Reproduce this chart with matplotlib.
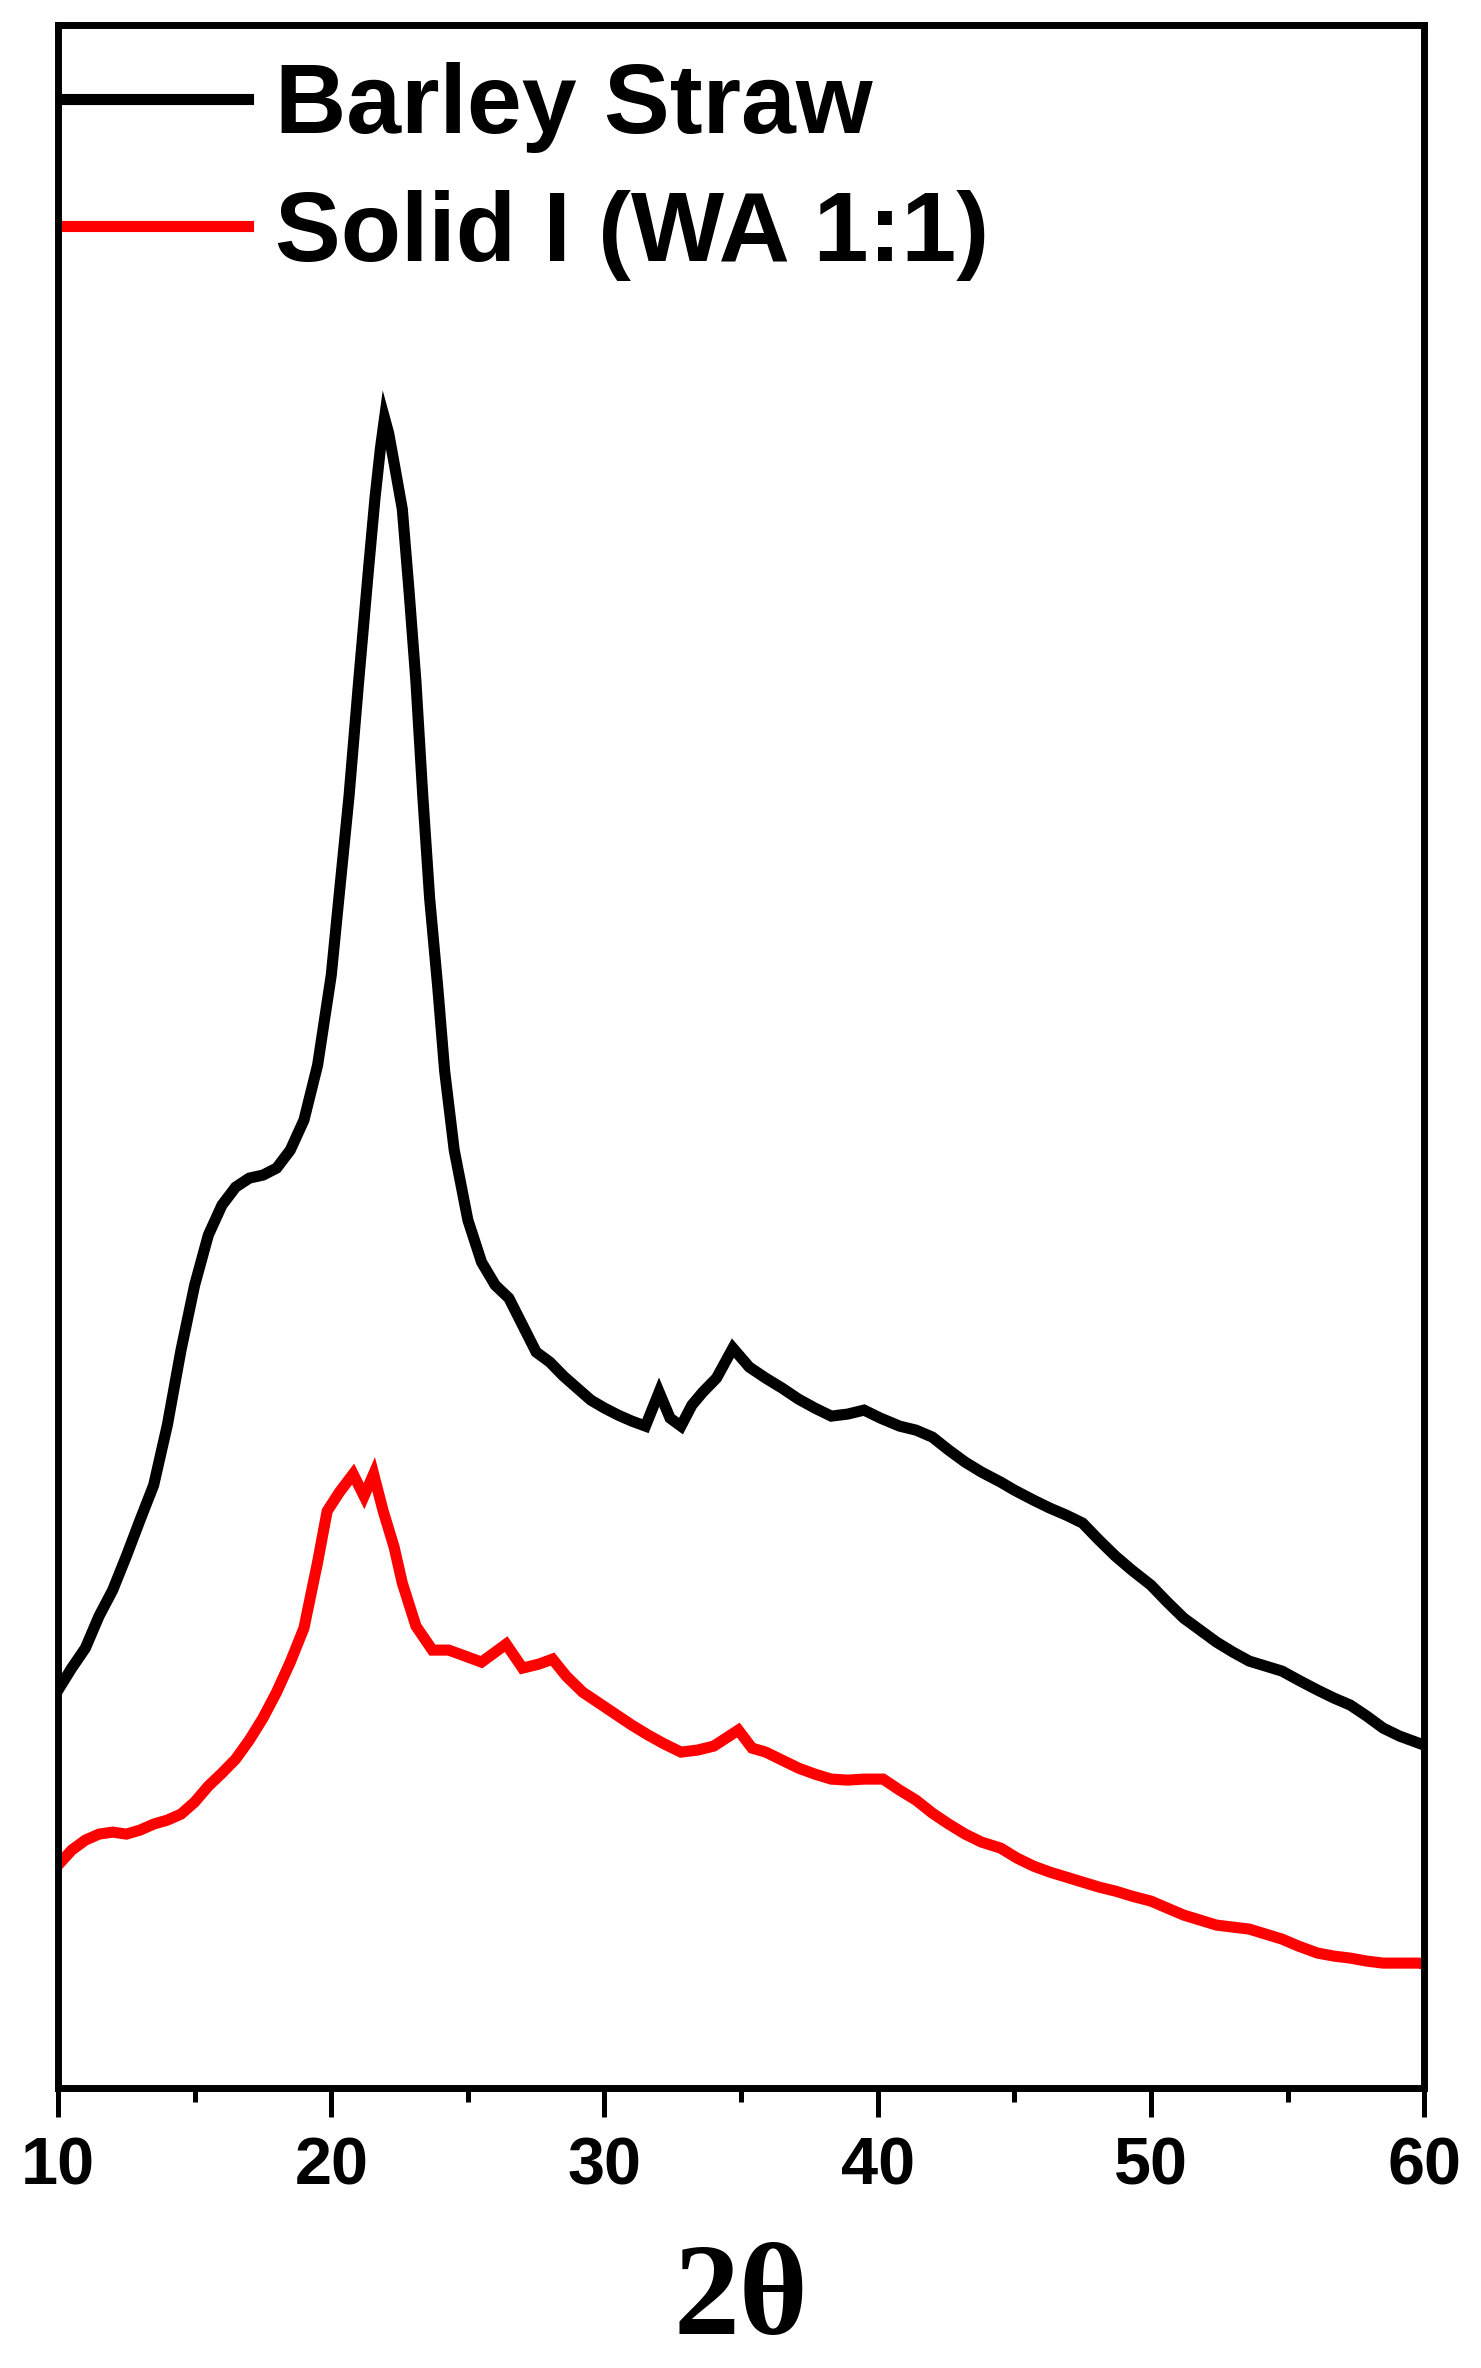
import matplotlib
matplotlib.use("Agg")
import matplotlib.pyplot as plt
from matplotlib.ticker import MultipleLocator

# XRD patterns (intensity in arbitrary units)
two_theta_straw = [10.0, 10.5, 11.0, 11.5, 12.0, 12.5, 13.0, 13.5, 14.0, 14.5,
                   15.0, 15.5, 16.0, 16.5, 17.0, 17.5, 18.0, 18.5, 19.0, 19.5,
                   20.0, 20.3, 20.65, 21.0, 21.35, 21.6, 21.8, 21.95, 22.1, 22.3,
                   22.6, 22.85, 23.1, 23.35, 23.6, 23.9, 24.15, 24.5, 25.0, 25.5,
                   26.0, 26.5, 27.0, 27.5, 28.0, 28.5, 29.0, 29.5, 30.0, 30.5,
                   31.0, 31.5, 32.0, 32.4, 32.8, 33.2, 33.6, 34.1, 34.7, 35.3,
                   35.9, 36.5, 37.1, 37.7, 38.3, 38.9, 39.5, 40.1, 40.8, 41.4,
                   42.0, 42.6, 43.2, 43.8, 44.5, 45.0, 45.7, 46.3, 46.9, 47.5,
                   48.1, 48.7, 49.3, 50.0, 50.6, 51.2, 51.8, 52.4, 53.0, 53.6,
                   54.2, 54.8, 55.4, 56.1, 56.7, 57.3, 57.9, 58.5, 59.1, 59.8,
                   60.0]
barley_straw = [398, 420, 440, 472, 498, 532, 568, 603, 663, 738,
                803, 853, 883, 901, 910, 913, 920, 938, 968, 1023,
                1113, 1196, 1292, 1406, 1515, 1590, 1640, 1670, 1655, 1625,
                1579, 1496, 1406, 1292, 1190, 1100, 1017, 938, 868, 826,
                803, 790, 763, 736, 726, 712, 700, 688, 680, 673,
                667, 662, 696, 670, 662, 683, 696, 710, 740, 721,
                710, 700, 689, 680, 672, 674, 678, 670, 662, 658,
                651, 638, 626, 616, 606, 598, 588, 580, 573, 565,
                548, 532, 518, 503, 486, 470, 458, 446, 436, 427,
                422, 417, 408, 398, 390, 383, 372, 360, 352, 345,
                343]

two_theta_solid = [10.0, 10.5, 11.0, 11.5, 12.0, 12.5, 13.0, 13.5, 14.0, 14.5,
                   15.0, 15.5, 16.0, 16.5, 17.0, 17.5, 18.0, 18.5, 19.0, 19.5,
                   19.85, 20.3, 20.8, 21.2, 21.55, 21.9, 22.3, 22.6, 23.1, 23.7,
                   24.3, 24.9, 25.5, 26.4, 27.0, 27.6, 28.1, 28.6, 29.2, 29.8,
                   30.4, 31.0, 31.6, 32.2, 32.8, 33.4, 34.0, 34.9, 35.4, 35.9,
                   36.5, 37.1, 37.7, 38.3, 38.9, 39.5, 40.2, 40.8, 41.4, 42.0,
                   42.6, 43.2, 43.8, 44.5, 45.1, 45.7, 46.3, 46.9, 47.5, 48.1,
                   48.7, 49.3, 50.0, 50.6, 51.2, 51.8, 52.4, 53.0, 53.6, 54.2,
                   54.8, 55.4, 56.1, 56.7, 57.3, 57.9, 58.5, 59.1, 59.8, 60.0]
solid_wa = [223, 238, 248, 254, 256, 254, 258, 264, 268, 274,
            286, 302, 315, 329, 348, 370, 396, 426, 460, 526,
            577, 596, 614, 592, 614, 577, 541, 505, 462, 438,
            438, 432, 426, 444, 420, 424, 429, 412, 396, 385,
            374, 363, 353, 344, 336, 338, 342, 358, 340, 336,
            328, 320, 314, 309, 308, 309, 309, 298, 288, 275,
            264, 254, 246, 240, 230, 222, 216, 211, 206, 201,
            197, 192, 187, 180, 173, 168, 163, 161, 159, 154,
            149, 142, 135, 132, 130, 127, 125, 125, 125, 124]

series_labels = ["Barley Straw", "Solid I (WA 1:1)"]
x_ticks = [10, 20, 30, 40, 50, 60]

fig = plt.figure(figsize=(14.81, 23.68), dpi=100)
ax = fig.add_axes([0.0392, 0.1182, 0.9224, 0.8712])

ax.plot(two_theta_straw, barley_straw, color="black", lw=8,
        solid_joinstyle="miter", label=series_labels[0])
ax.plot(two_theta_solid, solid_wa, color="#ff0000", lw=8,
        solid_joinstyle="miter", label=series_labels[1])

ax.set_xlim(10, 60)
ax.set_ylim(0, 2063)

for spine in ax.spines.values():
    spine.set_linewidth(5)

ax.set_xticks(x_ticks)
ax.xaxis.set_minor_locator(MultipleLocator(5))
ax.tick_params(axis="x", which="major", direction="out", length=21, width=3.6, pad=14)
ax.tick_params(axis="x", which="minor", direction="out", length=10, width=3.6)
ax.set_yticks([])
for lbl in ax.get_xticklabels():
    lbl.set_fontfamily(["Liberation Sans", "DejaVu Sans"])
    lbl.set_fontweight("bold")
    lbl.set_fontsize(48)

ax.set_xlabel("2θ", fontsize=95, fontweight="bold",
              family=["Liberation Serif", "DejaVu Serif"], labelpad=32)

leg = ax.legend(loc="upper left", bbox_to_anchor=(0.0066, 0.982), frameon=False,
                borderpad=0, borderaxespad=0, handlelength=1.83, handletextpad=0.28,
                labelspacing=0.37, prop={"family": ["Liberation Sans", "DejaVu Sans"],
                                         "weight": "bold", "size": 71})
for line in leg.get_lines():
    line.set_linewidth(8)

fig.savefig("out.png", dpi=100)
